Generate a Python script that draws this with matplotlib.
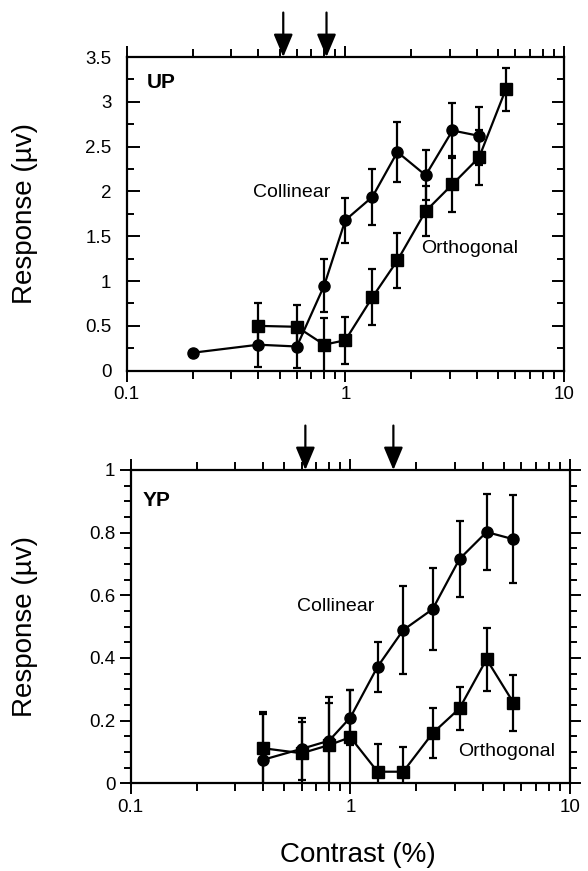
import numpy as np
import matplotlib
matplotlib.use("Agg")
import matplotlib.pyplot as plt
from matplotlib.ticker import FixedLocator, MultipleLocator, FuncFormatter, LogLocator, NullFormatter

plt.rcParams['font.family'] = ['Liberation Sans', 'DejaVu Sans']

# ---- data: panel UP ----
up_coll_x = [0.2, 0.4, 0.6, 0.8, 1.0, 1.33, 1.73, 2.33, 3.09, 4.09]
up_coll_y = [0.20, 0.29, 0.27, 0.95, 1.68, 1.94, 2.44, 2.18, 2.68, 2.62]
up_coll_e = [0.0, 0.25, 0.245, 0.30, 0.25, 0.31, 0.33, 0.28, 0.31, 0.32]
up_orth_x = [0.4, 0.6, 0.8, 1.0, 1.33, 1.73, 2.33, 3.09, 4.09, 5.42]
up_orth_y = [0.50, 0.49, 0.29, 0.34, 0.82, 1.23, 1.78, 2.08, 2.38, 3.14]
up_orth_e = [0.25, 0.24, 0.30, 0.26, 0.31, 0.31, 0.28, 0.31, 0.31, 0.24]
up_arrows = [0.52, 0.82]

# ---- data: panel YP ----
yp_coll_x = [0.4, 0.6, 0.8, 1.0, 1.33, 1.74, 2.37, 3.14, 4.17, 5.53]
yp_coll_y = [0.075, 0.11, 0.136, 0.21, 0.372, 0.489, 0.556, 0.716, 0.802, 0.779]
yp_coll_e = [0.145, 0.10, 0.14, 0.088, 0.08, 0.14, 0.13, 0.12, 0.12, 0.14]
yp_orth_x = [0.4, 0.6, 0.8, 1.0, 1.33, 1.74, 2.37, 3.14, 4.17, 5.53]
yp_orth_y = [0.112, 0.096, 0.122, 0.147, 0.037, 0.037, 0.16, 0.239, 0.396, 0.257]
yp_orth_e = [0.115, 0.10, 0.135, 0.15, 0.09, 0.08, 0.08, 0.068, 0.10, 0.09]
yp_arrows = [0.624, 1.57]

x_ticks = [0.1, 1, 10]
x_ticklabels = ["0.1", "1", "10"]

W, H = 588, 871
fig = plt.figure(figsize=(W / 100, H / 100), dpi=100)

ax1 = fig.add_axes([126.7 / W, 1 - 370.7 / H, (564 - 126.7) / W, (370.7 - 57) / H])
ax2 = fig.add_axes([130.7 / W, 1 - 783.3 / H, (570 - 130.7) / W, (783.3 - 470) / H])

fmt = FuncFormatter(lambda v, p: "%g" % v)


def draw_series(ax, x, y, e, marker, ms):
    ax.errorbar(x, y, yerr=e, fmt='-', marker=marker, ms=ms, color='black',
                mfc='black', mec='black', lw=1.6, elinewidth=1.6, capsize=3,
                capthick=1.6, zorder=3)


for ax in (ax1, ax2):
    ax.set_xscale('log')
    ax.set_xlim(0.1, 10)
    ax.xaxis.set_major_locator(FixedLocator(x_ticks))
    ax.xaxis.set_major_formatter(FixedFormatter := FuncFormatter(
        lambda v, p: x_ticklabels[x_ticks.index(min(x_ticks, key=lambda t: abs(np.log10(t) - np.log10(v))))]))
    ax.xaxis.set_minor_locator(LogLocator(base=10, subs=np.arange(2, 10)))
    ax.xaxis.set_minor_formatter(NullFormatter())
    ax.tick_params(axis='x', which='both', direction='out', top=True, bottom=True,
                   labelsize=13.5, width=1.4, pad=3)
    ax.tick_params(axis='x', which='major', length=8)
    ax.tick_params(axis='x', which='minor', length=6)
    for s in ax.spines.values():
        s.set_linewidth(1.6)
    ax.yaxis.set_major_formatter(fmt)

# Panel UP
draw_series(ax1, up_coll_x, up_coll_y, up_coll_e, 'o', 8)
draw_series(ax1, up_orth_x, up_orth_y, up_orth_e, 's', 8.5)
ax1.set_ylim(0, 3.5)
ax1.yaxis.set_major_locator(MultipleLocator(0.5))
ax1.yaxis.set_minor_locator(MultipleLocator(0.25))
ax1.tick_params(axis='y', which='both', direction='in', left=True, right=True,
                labelsize=13.5, width=1.4, pad=11)
ax1.tick_params(axis='y', which='major', length=9)
ax1.tick_params(axis='y', which='minor', length=5)
ax1.text(0.046, 0.92, "UP", transform=ax1.transAxes, fontsize=15, fontweight='bold',
         ha='left', va='center')
ax1.text(0.378, 1.99, "Collinear", fontsize=14, ha='left', va='center')
ax1.text(2.22, 1.36, "Orthogonal", fontsize=14, ha='left', va='center')

# Panel YP
draw_series(ax2, yp_coll_x, yp_coll_y, yp_coll_e, 'o', 8)
draw_series(ax2, yp_orth_x, yp_orth_y, yp_orth_e, 's', 8.5)
ax2.set_ylim(0, 1)
ax2.yaxis.set_major_locator(MultipleLocator(0.2))
ax2.yaxis.set_minor_locator(MultipleLocator(0.05))
ax2.tick_params(axis='y', which='both', direction='out', left=True, right=True,
                labelsize=13.5, width=1.4, pad=3)
ax2.tick_params(axis='y', which='major', length=8)
ax2.tick_params(axis='y', which='minor', length=5)
ax2.text(0.028, 0.904, "YP", transform=ax2.transAxes, fontsize=15, fontweight='bold',
         ha='left', va='center')
ax2.text(0.571, 0.563, "Collinear", fontsize=14, ha='left', va='center')
ax2.text(3.09, 0.10, "Orthogonal", fontsize=14, ha='left', va='center')

# arrows
for ax, xs in ((ax1, up_arrows), (ax2, yp_arrows)):
    for xa in xs:
        ax.annotate('', xy=(xa, 1.0), xycoords=('data', 'axes fraction'),
                    xytext=(0, 32), textcoords='offset points',
                    arrowprops=dict(arrowstyle='-|>,head_length=1.0,head_width=0.42',
                                    mutation_scale=14, lw=1.6, color='black',
                                    shrinkA=0, shrinkB=0),
                    annotation_clip=False)

# axis labels
fig.text(25 / W, 1 - 213.5 / H, "Response (µv)", rotation=90, fontsize=20,
         ha='center', va='center')
fig.text(25 / W, 1 - 626.6 / H, "Response (µv)", rotation=90, fontsize=20,
         ha='center', va='center')
fig.text(358 / W, 1 - 855 / H, "Contrast (%)", fontsize=20, ha='center', va='center')

fig.savefig("out.png", dpi=100)
